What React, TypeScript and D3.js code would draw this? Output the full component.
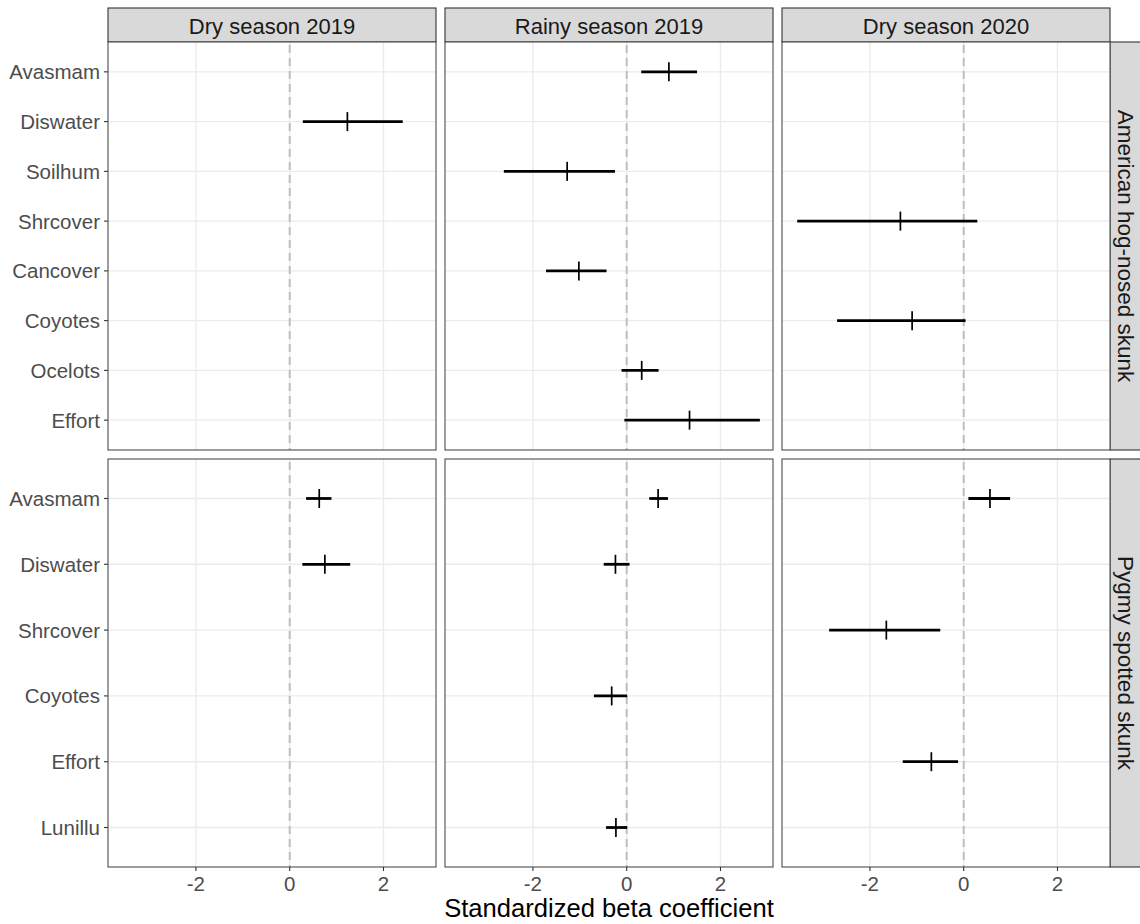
import React from "react";
import * as d3 from "d3";

const columnFacets = ["Dry season 2019", "Rainy season 2019", "Dry season 2020"];
const rowFacets = ["American hog-nosed skunk", "Pygmy spotted skunk"];

const hogCovariates = ["Avasmam", "Diswater", "Soilhum", "Shrcover", "Cancover", "Coyotes", "Ocelots", "Effort"];
const pygmyCovariates = ["Avasmam", "Diswater", "Shrcover", "Coyotes", "Effort", "Lunillu"];

// American hog-nosed skunk estimates
const hogSeason = [0, 1, 1, 1, 1, 1, 2, 2];
const hogCovariate = ["Diswater", "Avasmam", "Soilhum", "Cancover", "Ocelots", "Effort", "Shrcover", "Coyotes"];
const hogEstimate = [1.23, 0.9, -1.27, -1.02, 0.32, 1.34, -1.35, -1.1];
const hogLower = [0.28, 0.31, -2.62, -1.72, -0.11, -0.05, -3.55, -2.7];
const hogUpper = [2.41, 1.5, -0.25, -0.43, 0.68, 2.84, 0.29, 0.04];

// Pygmy spotted skunk estimates
const pygmySeason = [0, 0, 1, 1, 1, 1, 2, 2, 2];
const pygmyCovariate = ["Avasmam", "Diswater", "Avasmam", "Diswater", "Coyotes", "Lunillu", "Avasmam", "Shrcover", "Effort"];
const pygmyEstimate = [0.63, 0.75, 0.67, -0.24, -0.32, -0.23, 0.56, -1.65, -0.69];
const pygmyLower = [0.35, 0.27, 0.48, -0.49, -0.7, -0.44, 0.1, -2.87, -1.3];
const pygmyUpper = [0.89, 1.29, 0.88, 0.06, 0.01, 0.01, 0.99, -0.5, -0.12];

const xTicks = [-2, 0, 2];
const xDomain = [-3.875, 3.12];
const xTitle = "Standardized beta coefficient";

const FONT = "'Liberation Sans', Arial, Helvetica, sans-serif";

export default function App() {
  const W = 1140;
  const H = 924;
  const panelLefts = [108, 445, 782];
  const panelW = 328;
  const stripTop = 8;
  const stripH = 34;
  const rowTops = [42, 459];
  const panelH = 408;

  const rows = [
    {
      name: rowFacets[0],
      cats: hogCovariates,
      season: hogSeason,
      cov: hogCovariate,
      est: hogEstimate,
      lo: hogLower,
      hi: hogUpper,
    },
    {
      name: rowFacets[1],
      cats: pygmyCovariates,
      season: pygmySeason,
      cov: pygmyCovariate,
      est: pygmyEstimate,
      lo: pygmyLower,
      hi: pygmyUpper,
    },
  ];

  const gridColor = "#EBEBEB";
  const borderColor = "#4D4D4D";

  return (
    <svg
      width={W}
      height={H}
      style={{ position: "absolute", left: 0, top: 0, background: "#fff" }}
      fontFamily={FONT}
    >
      <rect x={0} y={0} width={W} height={H} fill="#fff" />
      {/* top strips */}
      {columnFacets.map((c, ci) => (
        <g key={"strip" + ci}>
          <rect
            x={panelLefts[ci]}
            y={stripTop}
            width={panelW}
            height={stripH}
            fill="#D9D9D9"
            stroke="#333333"
            strokeWidth={1.1}
          />
          <text
            x={panelLefts[ci] + panelW / 2}
            y={stripTop + stripH / 2 + 1}
            textAnchor="middle"
            dominantBaseline="central"
            fontSize={22}
            fill="#1A1A1A"
          >
            {c}
          </text>
        </g>
      ))}
      {rows.map((row, ri) => {
        const top = rowTops[ri];
        const y = d3.scalePoint<string>().domain(row.cats).range([top, top + panelH]).padding(0.6);
        const stripX = panelLefts[2] + panelW;
        return (
          <g key={"row" + ri}>
            {/* right strip */}
            <rect x={stripX} y={top} width={40} height={panelH} fill="#D9D9D9" stroke="#333333" strokeWidth={1.1} />
            <text
              transform={`translate(${stripX + 15.5},${top + panelH / 2}) rotate(90)`}
              textAnchor="middle"
              dominantBaseline="central"
              fontSize={22.5}
              fill="#1A1A1A"
            >
              {row.name}
            </text>
            {/* y axis labels & ticks on first column */}
            {row.cats.map((cat) => (
              <g key={"yl" + cat}>
                <line x1={panelLefts[0] - 4} x2={panelLefts[0]} y1={y(cat)} y2={y(cat)} stroke="#333333" strokeWidth={1.1} />
                <text
                  x={panelLefts[0] - 8}
                  y={y(cat)}
                  textAnchor="end"
                  dominantBaseline="central"
                  fontSize={20.5}
                  fill="#4D4D4D"
                >
                  {cat}
                </text>
              </g>
            ))}
            {columnFacets.map((c, ci) => {
              const left = panelLefts[ci];
              const x = d3.scaleLinear().domain(xDomain).range([left, left + panelW]);
              const idx = row.season.map((s, i) => (s === ci ? i : -1)).filter((i) => i >= 0);
              return (
                <g key={"p" + ci}>
                  <rect x={left} y={top} width={panelW} height={panelH} fill="#fff" />
                  {xTicks.map((t) => (
                    <line key={"gx" + t} x1={x(t)} x2={x(t)} y1={top} y2={top + panelH} stroke={gridColor} strokeWidth={1.4} />
                  ))}
                  {row.cats.map((cat) => (
                    <line key={"gy" + cat} x1={left} x2={left + panelW} y1={y(cat)} y2={y(cat)} stroke={gridColor} strokeWidth={1.4} />
                  ))}
                  <line
                    x1={x(0)}
                    x2={x(0)}
                    y1={top}
                    y2={top + panelH}
                    stroke="#BEBEBE"
                    strokeWidth={2}
                    strokeDasharray="8,5"
                    strokeDashoffset={-3}
                  />
                  {idx.map((i) => {
                    const yy = y(row.cov[i]) as number;
                    return (
                      <g key={"m" + i}>
                        <line x1={x(row.lo[i])} x2={x(row.hi[i])} y1={yy} y2={yy} stroke="#000" strokeWidth={2.8} />
                        <line x1={x(row.est[i])} x2={x(row.est[i])} y1={yy - 9.5} y2={yy + 9.5} stroke="#000" strokeWidth={1.7} />
                      </g>
                    );
                  })}
                  <rect x={left} y={top} width={panelW} height={panelH} fill="none" stroke={borderColor} strokeWidth={1.1} />
                  {ri === rows.length - 1 &&
                    xTicks.map((t) => (
                      <g key={"xt" + t}>
                        <line x1={x(t)} x2={x(t)} y1={top + panelH} y2={top + panelH + 4} stroke="#333333" strokeWidth={1.1} />
                        <text x={x(t)} y={top + panelH + 24} textAnchor="middle" fontSize={20.5} fill="#4D4D4D">
                          {t}
                        </text>
                      </g>
                    ))}
                </g>
              );
            })}
          </g>
        );
      })}
      <text x={(panelLefts[0] + panelLefts[2] + panelW) / 2} y={917} textAnchor="middle" fontSize={25.6} fill="#000">
        {xTitle}
      </text>
    </svg>
  );
}
